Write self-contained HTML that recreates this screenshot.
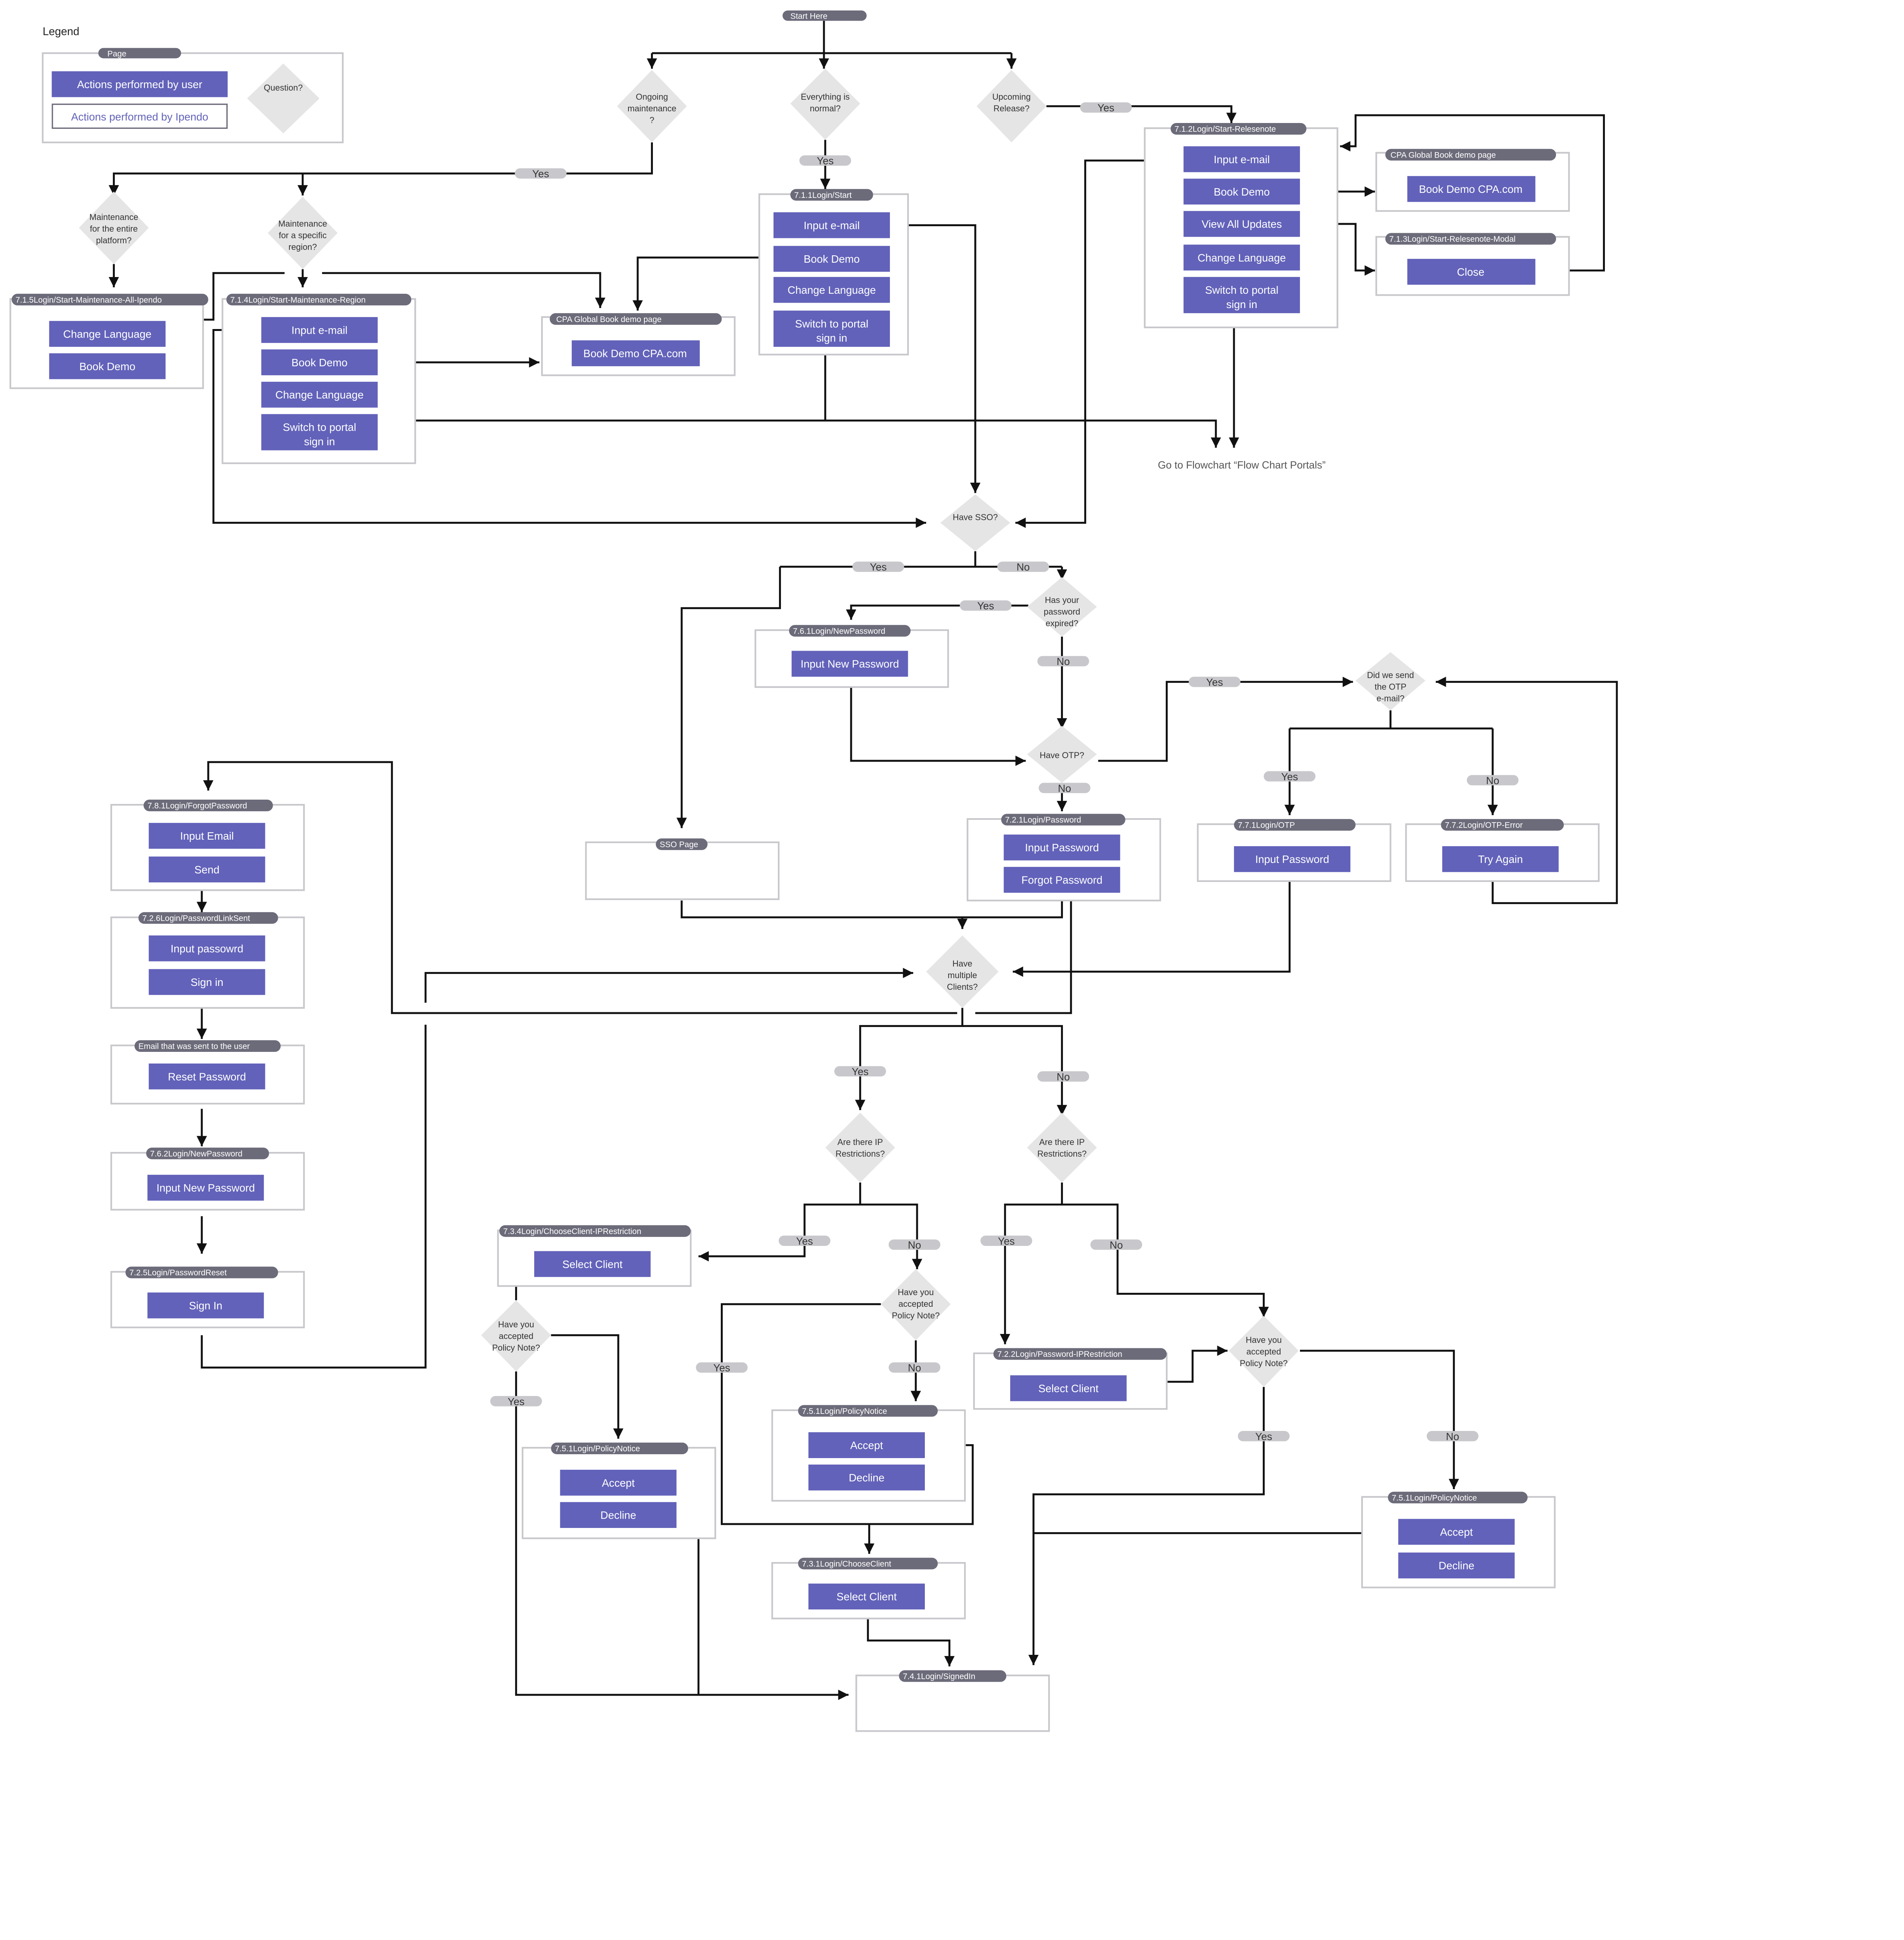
<!DOCTYPE html>
<html><head><meta charset="utf-8">
<style>
html,body{margin:0;padding:0;background:#fff;width:4908px;height:5272px;overflow:hidden;}
svg{display:block;}
text{font-family:"Liberation Sans",sans-serif;}
.b{fill:#6262BA;}
.bt{fill:#fff;font-size:8.3px;text-anchor:middle;}
.pg{fill:#fff;stroke:#C8C8CC;stroke-width:1.3;}
.pl{fill:#6C6B7A;}
.plt{fill:#fff;font-size:6.3px;}
.d{fill:#E5E5E5;}
.dt{fill:#333;font-size:6.6px;text-anchor:middle;}
.yn{fill:#C8C8CC;}
.ynt{fill:#333;font-size:8px;text-anchor:middle;}
.ln{stroke:#111;stroke-width:1.5;fill:none;}
</style></head>
<body>
<svg width="4908" height="5272" viewBox="0 0 1472 1581" xmlns="http://www.w3.org/2000/svg">
<defs>
<marker id="a" markerUnits="userSpaceOnUse" markerWidth="10" markerHeight="10" refX="8" refY="4" orient="auto">
<path d="M0,0 L8,4 L0,8 z" fill="#111"/>
</marker>
</defs>

<g class="ln">
<path d="M637,16 V41"/>
<path d="M504,41 H782"/>
<path d="M504,41 V53" marker-end="url(#a)"/>
<path d="M637,41 V53" marker-end="url(#a)"/>
<path d="M782,41 V53" marker-end="url(#a)"/>
<path d="M809,82 H952 V95" marker-end="url(#a)"/>
<path d="M1005,148 H1063" marker-end="url(#a)"/>
<path d="M1005,173 H1048 V209 H1063" marker-end="url(#a)"/>
<path d="M1213,209 H1240 V89 H1048 V113 H1036" marker-end="url(#a)"/>
<path d="M915,124 H839 V404 H785" marker-end="url(#a)"/>
<path d="M954,253 V346" marker-end="url(#a)"/>
<path d="M638,108 V146" marker-end="url(#a)"/>
<path d="M688,174 H754 V381" marker-end="url(#a)"/>
<path d="M598,199 H493 V240" marker-end="url(#a)"/>
<path d="M638,268 V325"/>
<path d="M292,325 H940 V346" marker-end="url(#a)"/>
<path d="M504,110 V134 H88 V151" marker-end="url(#a)"/>
<path d="M234,134 V151" marker-end="url(#a)"/>
<path d="M88,204 V222" marker-end="url(#a)"/>
<path d="M234,208 V222" marker-end="url(#a)"/>
<path d="M128,283 H145 V247 H165 V211 H220"/>
<path d="M249,211 H464 V238" marker-end="url(#a)"/>
<path d="M202,255 H165 V404 H716" marker-end="url(#a)"/>
<path d="M292,280 H417" marker-end="url(#a)"/>
<path d="M754,426 V438"/>
<path d="M603,438 H821"/>
<path d="M603,438 V470 H527 V640" marker-end="url(#a)"/>
<path d="M821,438 V448" marker-end="url(#a)"/>
<path d="M795,468 H658 V479" marker-end="url(#a)"/>
<path d="M658,531 V588 H793" marker-end="url(#a)"/>
<path d="M821,492 V563" marker-end="url(#a)"/>
<path d="M849,588 H902 V527 H1046" marker-end="url(#a)"/>
<path d="M1075,549 V563"/>
<path d="M997,563 H1154"/>
<path d="M997,563 V630" marker-end="url(#a)"/>
<path d="M1154,563 V630" marker-end="url(#a)"/>
<path d="M1154,674 V698 H1250 V527 H1110" marker-end="url(#a)"/>
<path d="M997,681 V751 H783" marker-end="url(#a)"/>
<path d="M821,605 V627" marker-end="url(#a)"/>
<path d="M527,696 V709 H821 V690"/>
<path d="M744,709 V718" marker-end="url(#a)"/>
<path d="M828,696 V783 H754"/>
<path d="M740,783 H303 V589 H161 V611" marker-end="url(#a)"/>
<path d="M156,1032 V1057 H329 V792"/>
<path d="M329,775 V752 H706" marker-end="url(#a)"/>
<path d="M744,779 V793 H665 V858" marker-end="url(#a)"/>
<path d="M744,793 H821 V862" marker-end="url(#a)"/>
<path d="M665,914 V931 H622 V971 H540" marker-end="url(#a)"/>
<path d="M665,931 H709 V981" marker-end="url(#a)"/>
<path d="M399,994 V1005"/>
<path d="M426,1032 H478 V1112" marker-end="url(#a)"/>
<path d="M399,1060 V1310 H656" marker-end="url(#a)"/>
<path d="M523,1146 H540 V1310"/>
<path d="M681,1008 H558 V1178 H672 V1201" marker-end="url(#a)"/>
<path d="M708,1036 V1083" marker-end="url(#a)"/>
<path d="M715,1117 H752 V1178 H672"/>
<path d="M671,1245 V1268 H734 V1288" marker-end="url(#a)"/>
<path d="M821,914 V931 H777 V1039" marker-end="url(#a)"/>
<path d="M821,931 H864 V1000 H977 V1018" marker-end="url(#a)"/>
<path d="M902,1068 H922 V1044 H949" marker-end="url(#a)"/>
<path d="M1005,1044 H1124 V1151" marker-end="url(#a)"/>
<path d="M977,1072 V1155 H799 V1287" marker-end="url(#a)"/>
<path d="M1081,1185 H799"/>
<path d="M156,688 V705" marker-end="url(#a)"/>
<path d="M156,779 V803" marker-end="url(#a)"/>
<path d="M156,857 V886" marker-end="url(#a)"/>
<path d="M156,940 V969" marker-end="url(#a)"/>
</g>

<text x="33" y="27" font-size="8.5" fill="#222">Legend</text>
<rect class="pg" x="33" y="41" width="232" height="69"/>
<rect class="pl" x="76" y="37" width="64" height="8" rx="4"/><text class="plt" x="83" y="43.5">Page</text>
<rect class="b" x="40" y="55" width="136" height="20"/><text class="bt" x="108" y="68">Actions performed by user</text>
<rect x="40.5" y="80.5" width="135" height="18.5" fill="#fff" stroke="#6C6B7A" stroke-width="1"/><text class="bt" x="108" y="93" style="fill:#6262BA">Actions performed by Ipendo</text>
<polygon class="d" points="219,49 247,76 219,103 191,76"/><text class="dt" x="219" y="70">Question?</text>

<rect class="pl" x="605" y="8" width="65" height="8" rx="4"/><text class="plt" x="611" y="14.5">Start Here</text>

<polygon class="d" points="504,54 531,82 504,110 477,82"/><text class="dt" x="504" y="77">Ongoing</text><text class="dt" x="504" y="86">maintenance</text><text class="dt" x="504" y="95">?</text>
<polygon class="d" points="638,53 665,80 638,108 611,80"/><text class="dt" x="638" y="77">Everything is</text><text class="dt" x="638" y="86">normal?</text>
<polygon class="d" points="782,54 809,82 782,110 755,82"/><text class="dt" x="782" y="77">Upcoming</text><text class="dt" x="782" y="86">Release?</text>
<polygon class="d" points="88,148 115,176 88,204 61,176"/><text class="dt" x="88" y="170">Maintenance</text><text class="dt" x="88" y="179">for the entire</text><text class="dt" x="88" y="188">platform?</text>
<polygon class="d" points="234,152 261,180 234,208 207,180"/><text class="dt" x="234" y="175">Maintenance</text><text class="dt" x="234" y="184">for a specific</text><text class="dt" x="234" y="193">region?</text>
<polygon class="d" points="754,382 781,404 754,426 727,404"/><text class="dt" x="754" y="402">Have SSO?</text>
<polygon class="d" points="821,446 848,469 821,492 794,469"/><text class="dt" x="821" y="466">Has your</text><text class="dt" x="821" y="475">password</text><text class="dt" x="821" y="484">expired?</text>
<polygon class="d" points="821,561 848,583 821,605 794,583"/><text class="dt" x="821" y="586">Have OTP?</text>
<polygon class="d" points="1075,504 1102,526 1075,549 1048,526"/><text class="dt" x="1075" y="524">Did we send</text><text class="dt" x="1075" y="533">the OTP</text><text class="dt" x="1075" y="542">e-mail?</text>
<polygon class="d" points="744,723 772,751 744,779 716,751"/><text class="dt" x="744" y="747">Have</text><text class="dt" x="744" y="756">multiple</text><text class="dt" x="744" y="765">Clients?</text>
<polygon class="d" points="665,860 692,887 665,914 638,887"/><text class="dt" x="665" y="885">Are there IP</text><text class="dt" x="665" y="894">Restrictions?</text>
<polygon class="d" points="821,860 848,887 821,914 794,887"/><text class="dt" x="821" y="885">Are there IP</text><text class="dt" x="821" y="894">Restrictions?</text>
<polygon class="d" points="708,981 735,1008 708,1036 681,1008"/><text class="dt" x="708" y="1001">Have you</text><text class="dt" x="708" y="1010">accepted</text><text class="dt" x="708" y="1019">Policy Note?</text>
<polygon class="d" points="399,1005 426,1032 399,1060 372,1032"/><text class="dt" x="399" y="1026">Have you</text><text class="dt" x="399" y="1035">accepted</text><text class="dt" x="399" y="1044">Policy Note?</text>
<polygon class="d" points="977,1017 1004,1044 977,1072 950,1044"/><text class="dt" x="977" y="1038">Have you</text><text class="dt" x="977" y="1047">accepted</text><text class="dt" x="977" y="1056">Policy Note?</text>

<g>
<rect class="yn" x="835" y="79" width="40" height="8" rx="4"/><text class="ynt" x="855" y="86">Yes</text>
<rect class="yn" x="618" y="120" width="40" height="8" rx="4"/><text class="ynt" x="638" y="127">Yes</text>
<rect class="yn" x="398" y="130" width="40" height="8" rx="4"/><text class="ynt" x="418" y="137">Yes</text>
<rect class="yn" x="659" y="434" width="40" height="8" rx="4"/><text class="ynt" x="679" y="441">Yes</text>
<rect class="yn" x="771" y="434" width="40" height="8" rx="4"/><text class="ynt" x="791" y="441">No</text>
<rect class="yn" x="742" y="464" width="40" height="8" rx="4"/><text class="ynt" x="762" y="471">Yes</text>
<rect class="yn" x="802" y="507" width="40" height="8" rx="4"/><text class="ynt" x="822" y="514">No</text>
<rect class="yn" x="919" y="523" width="40" height="8" rx="4"/><text class="ynt" x="939" y="530">Yes</text>
<rect class="yn" x="803" y="605" width="40" height="8" rx="4"/><text class="ynt" x="823" y="612">No</text>
<rect class="yn" x="977" y="596" width="40" height="8" rx="4"/><text class="ynt" x="997" y="603">Yes</text>
<rect class="yn" x="1134" y="599" width="40" height="8" rx="4"/><text class="ynt" x="1154" y="606">No</text>
<rect class="yn" x="645" y="824" width="40" height="8" rx="4"/><text class="ynt" x="665" y="831">Yes</text>
<rect class="yn" x="802" y="828" width="40" height="8" rx="4"/><text class="ynt" x="822" y="835">No</text>
<rect class="yn" x="602" y="955" width="40" height="8" rx="4"/><text class="ynt" x="622" y="962">Yes</text>
<rect class="yn" x="687" y="958" width="40" height="8" rx="4"/><text class="ynt" x="707" y="965">No</text>
<rect class="yn" x="758" y="955" width="40" height="8" rx="4"/><text class="ynt" x="778" y="962">Yes</text>
<rect class="yn" x="843" y="958" width="40" height="8" rx="4"/><text class="ynt" x="863" y="965">No</text>
<rect class="yn" x="538" y="1053" width="40" height="8" rx="4"/><text class="ynt" x="558" y="1060">Yes</text>
<rect class="yn" x="687" y="1053" width="40" height="8" rx="4"/><text class="ynt" x="707" y="1060">No</text>
<rect class="yn" x="379" y="1079" width="40" height="8" rx="4"/><text class="ynt" x="399" y="1086">Yes</text>
<rect class="yn" x="957" y="1106" width="40" height="8" rx="4"/><text class="ynt" x="977" y="1113">Yes</text>
<rect class="yn" x="1103" y="1106" width="40" height="8" rx="4"/><text class="ynt" x="1123" y="1113">No</text>
</g>

<rect class="pg" x="885" y="99" width="149" height="154"/>
<rect class="pl" x="905" y="95" width="105" height="9" rx="4.5"/><text class="plt" x="908" y="101.8">7.1.2Login/Start-Relesenote</text>
<rect class="b" x="915" y="113" width="90" height="20"/><text class="bt" x="960" y="126">Input e-mail</text>
<rect class="b" x="915" y="138" width="90" height="20"/><text class="bt" x="960" y="151">Book Demo</text>
<rect class="b" x="915" y="163" width="90" height="20"/><text class="bt" x="960" y="176">View All Updates</text>
<rect class="b" x="915" y="189" width="90" height="20"/><text class="bt" x="960" y="202">Change Language</text>
<rect class="b" x="915" y="214" width="90" height="28"/><text class="bt" x="960" y="227">Switch to portal</text><text class="bt" x="960" y="238">sign in</text>
<text x="960" y="362" font-size="8" fill="#555" text-anchor="middle">Go to Flowchart “Flow Chart Portals”</text>

<rect class="pg" x="1064" y="118" width="149" height="45"/>
<rect class="pl" x="1071" y="115" width="132" height="9" rx="4.5"/><text class="plt" x="1075" y="121.8">CPA Global Book demo page</text>
<rect class="b" x="1088" y="136" width="99" height="20"/><text class="bt" x="1137" y="149">Book Demo CPA.com</text>
<rect class="pg" x="1064" y="183" width="149" height="45"/>
<rect class="pl" x="1071" y="180" width="132" height="9" rx="4.5"/><text class="plt" x="1074" y="186.8">7.1.3Login/Start-Relesenote-Modal</text>
<rect class="b" x="1088" y="200" width="99" height="20"/><text class="bt" x="1137" y="213">Close</text>

<rect class="pg" x="587" y="150" width="115" height="124"/>
<rect class="pl" x="611" y="146" width="64" height="9" rx="4.5"/><text class="plt" x="614" y="152.8">7.1.1Login/Start</text>
<rect class="b" x="598" y="164" width="90" height="20"/><text class="bt" x="643" y="177">Input e-mail</text>
<rect class="b" x="598" y="190" width="90" height="20"/><text class="bt" x="643" y="203">Book Demo</text>
<rect class="b" x="598" y="214" width="90" height="20"/><text class="bt" x="643" y="227">Change Language</text>
<rect class="b" x="598" y="240" width="90" height="28"/><text class="bt" x="643" y="253">Switch to portal</text><text class="bt" x="643" y="264">sign in</text>

<rect class="pg" x="8" y="231" width="149" height="69"/>
<rect class="pl" x="9" y="227" width="152" height="9" rx="4.5"/><text class="plt" x="12" y="233.8">7.1.5Login/Start-Maintenance-All-Ipendo</text>
<rect class="b" x="38" y="248" width="90" height="20"/><text class="bt" x="83" y="261">Change Language</text>
<rect class="b" x="38" y="273" width="90" height="20"/><text class="bt" x="83" y="286">Book Demo</text>

<rect class="pg" x="172" y="231" width="149" height="127"/>
<rect class="pl" x="175" y="227" width="143" height="9" rx="4.5"/><text class="plt" x="178" y="233.8">7.1.4Login/Start-Maintenance-Region</text>
<rect class="b" x="202" y="245" width="90" height="20"/><text class="bt" x="247" y="258">Input e-mail</text>
<rect class="b" x="202" y="270" width="90" height="20"/><text class="bt" x="247" y="283">Book Demo</text>
<rect class="b" x="202" y="295" width="90" height="20"/><text class="bt" x="247" y="308">Change Language</text>
<rect class="b" x="202" y="320" width="90" height="28"/><text class="bt" x="247" y="333">Switch to portal</text><text class="bt" x="247" y="344">sign in</text>

<rect class="pg" x="419" y="245" width="149" height="45"/>
<rect class="pl" x="425" y="242" width="133" height="9" rx="4.5"/><text class="plt" x="430" y="248.8">CPA Global Book demo page</text>
<rect class="b" x="442" y="263" width="99" height="20"/><text class="bt" x="491" y="276">Book Demo CPA.com</text>

<rect class="pg" x="584" y="487" width="149" height="44"/>
<rect class="pl" x="610" y="483" width="94" height="9" rx="4.5"/><text class="plt" x="613" y="489.8">7.6.1Login/NewPassword</text>
<rect class="b" x="612" y="503" width="90" height="20"/><text class="bt" x="657" y="516">Input New Password</text>

<rect class="pg" x="453" y="651" width="149" height="44"/>
<rect class="pl" x="507" y="648" width="40" height="9" rx="4.5"/><text class="plt" x="510" y="654.8">SSO Page</text>

<rect class="pg" x="748" y="633" width="149" height="63"/>
<rect class="pl" x="774" y="629" width="96" height="9" rx="4.5"/><text class="plt" x="777" y="635.8">7.2.1Login/Password</text>
<rect class="b" x="776" y="645" width="90" height="20"/><text class="bt" x="821" y="658">Input Password</text>
<rect class="b" x="776" y="670" width="90" height="20"/><text class="bt" x="821" y="683">Forgot Password</text>

<rect class="pg" x="926" y="637" width="149" height="44"/>
<rect class="pl" x="954" y="633" width="94" height="9" rx="4.5"/><text class="plt" x="957" y="639.8">7.7.1Login/OTP</text>
<rect class="b" x="954" y="654" width="90" height="20"/><text class="bt" x="999" y="667">Input Password</text>

<rect class="pg" x="1087" y="637" width="149" height="44"/>
<rect class="pl" x="1114" y="633" width="95" height="9" rx="4.5"/><text class="plt" x="1117" y="639.8">7.7.2Login/OTP-Error</text>
<rect class="b" x="1115" y="654" width="90" height="20"/><text class="bt" x="1160" y="667">Try Again</text>

<rect class="pg" x="86" y="622" width="149" height="66"/>
<rect class="pl" x="111" y="618" width="100" height="9" rx="4.5"/><text class="plt" x="114" y="624.8">7.8.1Login/ForgotPassword</text>
<rect class="b" x="115" y="636" width="90" height="20"/><text class="bt" x="160" y="649">Input Email</text>
<rect class="b" x="115" y="662" width="90" height="20"/><text class="bt" x="160" y="675">Send</text>

<rect class="pg" x="86" y="709" width="149" height="70"/>
<rect class="pl" x="107" y="705" width="108" height="9" rx="4.5"/><text class="plt" x="110" y="711.8">7.2.6Login/PasswordLinkSent</text>
<rect class="b" x="115" y="723" width="90" height="20"/><text class="bt" x="160" y="736">Input passowrd</text>
<rect class="b" x="115" y="749" width="90" height="20"/><text class="bt" x="160" y="762">Sign in</text>

<rect class="pg" x="86" y="808" width="149" height="45"/>
<rect class="pl" x="104" y="804" width="113" height="9" rx="4.5"/><text class="plt" x="107" y="810.8">Email that was sent to the user</text>
<rect class="b" x="115" y="822" width="90" height="20"/><text class="bt" x="160" y="835">Reset Password</text>

<rect class="pg" x="86" y="891" width="149" height="44"/>
<rect class="pl" x="113" y="887" width="95" height="9" rx="4.5"/><text class="plt" x="116" y="893.8">7.6.2Login/NewPassword</text>
<rect class="b" x="114" y="908" width="90" height="20"/><text class="bt" x="159" y="921">Input New Password</text>

<rect class="pg" x="86" y="983" width="149" height="43"/>
<rect class="pl" x="97" y="979" width="118" height="9" rx="4.5"/><text class="plt" x="100" y="985.8">7.2.5Login/PasswordReset</text>
<rect class="b" x="114" y="999" width="90" height="20"/><text class="bt" x="159" y="1012">Sign In</text>

<rect class="pg" x="385" y="951" width="149" height="43"/>
<rect class="pl" x="386" y="947" width="148" height="9" rx="4.5"/><text class="plt" x="389" y="953.8">7.3.4Login/ChooseClient-IPRestriction</text>
<rect class="b" x="413" y="967" width="90" height="20"/><text class="bt" x="458" y="980">Select Client</text>

<rect class="pg" x="404" y="1119" width="149" height="70"/>
<rect class="pl" x="426" y="1115" width="106" height="9" rx="4.5"/><text class="plt" x="429" y="1121.8">7.5.1Login/PolicyNotice</text>
<rect class="b" x="433" y="1136" width="90" height="20"/><text class="bt" x="478" y="1149">Accept</text>
<rect class="b" x="433" y="1161" width="90" height="20"/><text class="bt" x="478" y="1174">Decline</text>

<rect class="pg" x="597" y="1090" width="149" height="70"/>
<rect class="pl" x="617" y="1086" width="108" height="9" rx="4.5"/><text class="plt" x="620" y="1092.8">7.5.1Login/PolicyNotice</text>
<rect class="b" x="625" y="1107" width="90" height="20"/><text class="bt" x="670" y="1120">Accept</text>
<rect class="b" x="625" y="1132" width="90" height="20"/><text class="bt" x="670" y="1145">Decline</text>

<rect class="pg" x="597" y="1208" width="149" height="43"/>
<rect class="pl" x="617" y="1204" width="108" height="9" rx="4.5"/><text class="plt" x="620" y="1210.8">7.3.1Login/ChooseClient</text>
<rect class="b" x="625" y="1224" width="90" height="20"/><text class="bt" x="670" y="1237">Select Client</text>

<rect class="pg" x="662" y="1295" width="149" height="43"/>
<rect class="pl" x="695" y="1291" width="83" height="9" rx="4.5"/><text class="plt" x="698" y="1297.8">7.4.1Login/SignedIn</text>

<rect class="pg" x="753" y="1046" width="149" height="43"/>
<rect class="pl" x="768" y="1042" width="134" height="9" rx="4.5"/><text class="plt" x="771" y="1048.8">7.2.2Login/Password-IPRestriction</text>
<rect class="b" x="781" y="1063" width="90" height="20"/><text class="bt" x="826" y="1076">Select Client</text>

<rect class="pg" x="1053" y="1157" width="149" height="70"/>
<rect class="pl" x="1073" y="1153" width="108" height="9" rx="4.5"/><text class="plt" x="1076" y="1159.8">7.5.1Login/PolicyNotice</text>
<rect class="b" x="1081" y="1174" width="90" height="20"/><text class="bt" x="1126" y="1187">Accept</text>
<rect class="b" x="1081" y="1200" width="90" height="20"/><text class="bt" x="1126" y="1213">Decline</text>

</svg>
</body></html>
